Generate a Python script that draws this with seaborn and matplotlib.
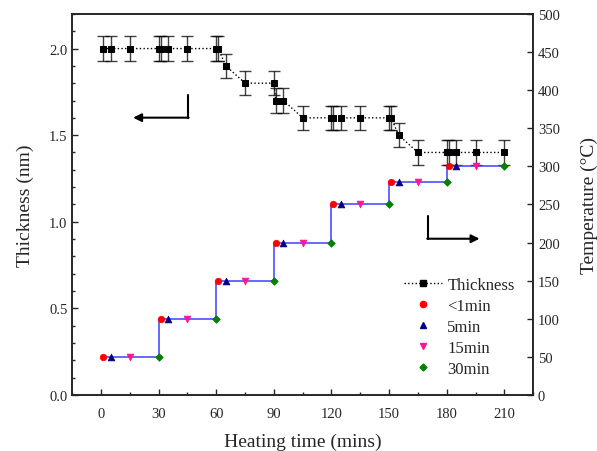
import numpy as np
import pandas as pd
import matplotlib
matplotlib.use("Agg")
import matplotlib.pyplot as plt
from matplotlib.ticker import MultipleLocator
from matplotlib.lines import Line2D
import seaborn as sns

# Thickness data (left axis)
thick_time = [1, 5, 15, 30, 31, 35, 45, 60, 61, 65, 75, 90, 91, 95, 105,
              120, 121, 125, 135, 150, 151, 155, 165, 180, 181, 185, 195, 210]
thick_nm = [2.0, 2.0, 2.0, 2.0, 2.0, 2.0, 2.0, 2.0, 2.0, 1.9, 1.8, 1.8, 1.7, 1.7, 1.6,
            1.6, 1.6, 1.6, 1.6, 1.6, 1.6, 1.5, 1.4, 1.4, 1.4, 1.4, 1.4, 1.4]
thick_err = 0.07

# Temperature steps (right axis)
step_temps = [50, 100, 150, 200, 250, 280, 300]
step_starts = [0, 30, 60, 90, 120, 150, 180]
t_lt1 = [s + 1 for s in step_starts]
t_5 = [s + 5 for s in step_starts]
t_15 = [s + 15 for s in step_starts]
t_30 = [s + 30 for s in step_starts]
step_x = [1, 30, 60, 90, 120, 150, 180, 210]
step_y = step_temps + [300]

sns.set_style("ticks")
plt.rcParams['font.family'] = ['Liberation Serif', 'DejaVu Serif']
plt.rcParams['xtick.direction'] = 'in'
plt.rcParams['ytick.direction'] = 'in'

fig = plt.figure(figsize=(5.97, 4.52), dpi=100)
ax = fig.add_axes([0.121, 0.124, 0.772, 0.843])
ax2 = ax.twinx()

df_t = pd.DataFrame({'time': thick_time, 'thick': thick_nm})
ax.errorbar(thick_time, thick_nm, yerr=thick_err, fmt='none', ecolor='black',
            elinewidth=1, capsize=4, capthick=1, alpha=0.75, zorder=2)
sns.lineplot(data=df_t, x='time', y='thick', ax=ax, color='black', linestyle=':',
             linewidth=1, marker='s', markersize=4, markeredgecolor='black',
             sort=False, estimator=None, zorder=3)

# step line
ax2.plot(step_x, step_y, drawstyle='steps-post', color='#3333ff', linewidth=1.3,
         alpha=0.8, zorder=2)
series = [(t_lt1, 'o', 'red', '<1min', 22),
          (t_5, '^', 'navy', '5min', 24),
          (t_15, 'v', '#ff1493', '15min', 24),
          (t_30, 'D', 'green', '30min', 15)]
for tx, m, c, lab, s in series:
    sns.scatterplot(x=tx, y=step_temps, ax=ax2, marker=m, color=c, s=s,
                    edgecolor=c, linewidth=0.5, zorder=3)

ax.set_xlim(-15, 225)
ax.set_ylim(0, 2.2)
ax2.set_ylim(0, 500)
ax.set_xticks(range(0, 211, 30))
ax.xaxis.set_minor_locator(MultipleLocator(15))
ax.set_yticks([0, 0.5, 1.0, 1.5, 2.0])
ax.yaxis.set_minor_locator(MultipleLocator(0.1))
ax2.set_yticks(range(0, 501, 50))
ax.tick_params(which='major', length=4, width=1, labelsize=10.5, top=False)
ax.tick_params(axis='x', which='major', pad=8.5)
ax.tick_params(which='minor', length=2.5, width=1, top=False)
ax2.tick_params(which='major', length=4, width=1, labelsize=10.5)
for a in (ax, ax2):
    for sp in a.spines.values():
        sp.set_visible(True)
        sp.set_linewidth(1.2)

ax.set_xlabel('Heating time (mins)', fontsize=14, labelpad=9)
ax.set_ylabel('Thickness (nm)', fontsize=14, labelpad=11)
ax2.set_ylabel('Temperature (°C)', fontsize=14, labelpad=15)
ax.yaxis.set_major_formatter(matplotlib.ticker.FormatStrFormatter('%.1f'))

# arrows
ax.plot([45.3, 45.3], [1.734, 1.601], color='black', lw=1.5)
ax.annotate('', xy=(16.7, 1.601), xytext=(45.6, 1.601),
            arrowprops=dict(arrowstyle='-|>', color='black', lw=1.5,
                            mutation_scale=12, shrinkA=0, shrinkB=0))
ax.plot([170.2, 170.2], [1.035, 0.902], color='black', lw=1.5)
ax.annotate('', xy=(197.1, 0.902), xytext=(169.9, 0.902),
            arrowprops=dict(arrowstyle='-|>', color='black', lw=1.5,
                            mutation_scale=12, shrinkA=0, shrinkB=0))

handles = [Line2D([], [], color='black', linestyle=':', lw=1, marker='s', markersize=4)]
for tx, m, c, lab, s in series:
    handles.append(Line2D([], [], linestyle='none', marker=m, color=c,
                          markersize=4.5 if m != 'D' else 3.5))
labels = ['Thickness', '<1min', '5min', '15min', '30min']
leg = ax2.legend(handles, labels, loc='upper left',
                 bbox_to_anchor=(404 / 597, 1 - 278 / 452),
                 bbox_transform=fig.transFigure, frameon=False, fontsize=12,
                 borderpad=0, borderaxespad=0, handlelength=2.3,
                 handletextpad=0.3, labelspacing=0.3)

fig.savefig('out.png', dpi=100)
